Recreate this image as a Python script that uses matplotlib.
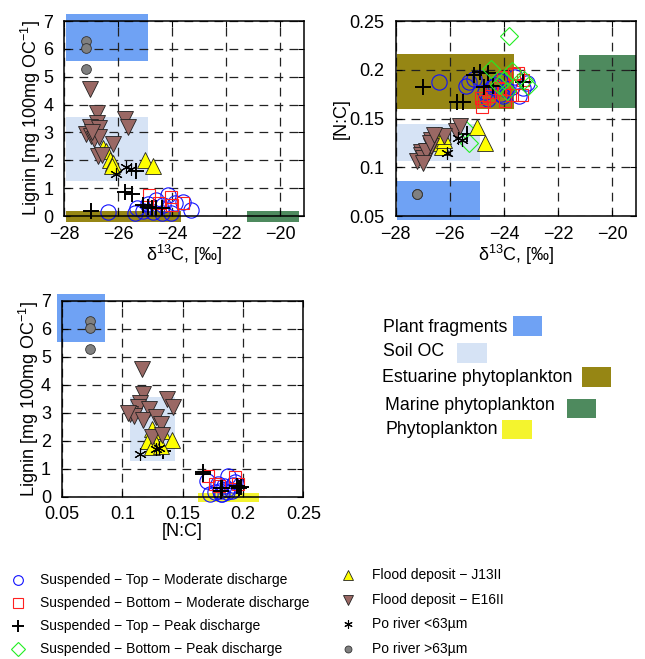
import numpy as np
import matplotlib
matplotlib.use('Agg')
import matplotlib.pyplot as plt
from matplotlib.patches import Rectangle
from matplotlib.ticker import FuncFormatter

plt.rcParams['font.family'] = ['Liberation Sans', 'DejaVu Sans']
plt.rcParams['mathtext.fontset'] = 'custom'
plt.rcParams['mathtext.rm'] = 'Liberation Sans'
plt.rcParams['mathtext.it'] = 'Liberation Sans:italic'
plt.rcParams['mathtext.bf'] = 'Liberation Sans:bold'

nan = np.nan

# ---------------- data (d13C, N:C, lignin) ----------------
top_mod_d13c = [-26.40, -25.40, -25.30, -25.10, -24.90, -24.70, -24.60, -24.40, -24.35,
                -24.15, -24.05, -23.90, -23.60, -23.30, -23.45, -23.15, -23.70, -24.10]
top_mod_nc = [0.187, 0.183, 0.187, 0.191, 0.192, 0.177, 0.170, 0.182, 0.184,
              0.188, 0.173, 0.179, 0.193, 0.181, 0.173, 0.186, 0.182, 0.175]
top_mod_lig = [0.16, 0.10, 0.28, 0.19, 0.43, 0.16, 0.57, 0.10, 0.39,
               0.75, 0.10, 0.46, 0.51, 0.22, nan, nan, nan, nan]

bot_mod_d13c = [-24.85, -24.50, -24.05, -24.00, -23.62, -24.75, -24.80, -24.55, -24.20,
                -23.70, -23.50, -23.35, -23.30, -23.95]
bot_mod_nc = [0.171, 0.177, 0.193, 0.180, 0.196, 0.168, 0.162, 0.173, 0.181,
              0.174, 0.197, 0.174, 0.190, 0.168]
bot_mod_lig = [0.75, 0.46, 0.69, 0.40, 0.46, nan, nan, nan, nan,
               nan, nan, nan, nan, nan]

top_peak_d13c = [-27.00, -25.75, -25.50, -25.35, -25.10, -24.90, -24.75, -24.60, -24.40, -23.30]
top_peak_nc = [0.182, 0.167, 0.167, 0.134, 0.195, 0.198, 0.182, 0.197, 0.183, 0.187]
top_peak_lig = [0.19, 0.87, 0.80, 1.62, 0.38, 0.33, 0.30, 0.30, 0.30, nan]

bot_peak_d13c = [-23.80, -25.30, -25.45, -24.50, -24.00, -23.70, -23.25, -23.10, -24.20, -23.90]
bot_peak_nc = [0.235, 0.125, 0.139, 0.201, 0.190, 0.199, 0.190, 0.183, 0.184, 0.178]
bot_peak_lig = [nan] * 10

j13_d13c = [-26.55, -26.45, -26.30, -26.20, -25.00, -24.70, -26.25]
j13_nc = [0.125, 0.133, 0.121, 0.128, 0.141, 0.125, 0.132]
j13_lig = [2.43, 2.35, 2.01, 1.90, 2.02, 1.78, 1.80]

e16_d13c = [-27.05, -26.80, -26.80, -27.05, -27.20, -27.00, -26.70, -26.90, -26.70,
            -25.77, -25.64, -26.20, -26.75, -26.60, -26.98]
e16_nc = [0.116, 0.117, 0.115, 0.113, 0.106, 0.110, 0.122, 0.117, 0.128,
          0.137, 0.142, 0.132, 0.125, 0.133, 0.1045]
e16_lig = [4.55, 3.69, 3.35, 3.20, 2.95, 2.88, 3.15, 2.75, 2.85,
           3.48, 3.20, 2.60, 2.15, 2.20, 3.00]

po_fine_d13c = [-26.10, -25.70, -25.55]
po_fine_nc = [0.115, 0.130, 0.128]
po_fine_lig = [1.51, 1.75, 1.70]

po_coarse_d13c = [-27.20, -27.20, -27.20]
po_coarse_nc = [0.073, 0.073, 0.073]
po_coarse_lig = [6.30, 6.02, 5.28]

# source end-member boxes: (d13C range, N:C range, lignin range)
region_names = ['Plant fragments', 'Soil OC', 'Estuarine phytoplankton',
                'Marine phytoplankton', 'Phytoplankton']
region_d13c = [(-27.95, -24.90), (-27.95, -24.90), (-27.95, -23.65), (-21.25, -19.13), None]
region_d13c_p1 = [(-27.95, -24.90), (-27.95, -24.90), (-27.95, -23.70), (-21.25, -19.30), None]
region_nc = [(0.046, 0.086), (0.106, 0.144), (0.160, 0.216), (0.161, 0.215), (0.163, 0.213)]
region_lig = [(5.55, 7.25), (1.27, 3.55), (-0.20, 0.18), (-0.20, 0.18), (-0.20, 0.13)]
region_colors = ['#6fa2f4', '#d6e3f5', '#968614', '#4e8a5e', '#f4f42e']

series = [
    ('Suspended \u2212 Top \u2212 Moderate discharge', top_mod_d13c, top_mod_nc, top_mod_lig,
     dict(marker='o', mfc='none', mec='#1010ff', ms=11, mew=0.8)),
    ('Suspended \u2212 Bottom \u2212 Moderate discharge', bot_mod_d13c, bot_mod_nc, bot_mod_lig,
     dict(marker='s', mfc='none', mec='#ff2020', ms=9, mew=0.8)),
    ('Suspended \u2212 Top \u2212 Peak discharge', top_peak_d13c, top_peak_nc, top_peak_lig,
     dict(marker='+', mec='black', ms=11, mew=1.4)),
    ('Suspended \u2212 Bottom \u2212 Peak discharge', bot_peak_d13c, bot_peak_nc, bot_peak_lig,
     dict(marker='D', mfc='none', mec='#22ee22', ms=9, mew=0.8)),
    ('Flood deposit \u2212 J13II', j13_d13c, j13_nc, j13_lig,
     dict(marker='^', mfc='#ffff00', mec='#222222', ms=12, mew=0.6)),
    ('Flood deposit \u2212 E16II', e16_d13c, e16_nc, e16_lig,
     dict(marker='v', mfc='#9a6864', mec='#222222', ms=12, mew=0.6)),
    ('Po river <63\u00b5m', po_fine_d13c, po_fine_nc, po_fine_lig,
     dict(marker=(6, 2, 0), mec='black', ms=9, mew=0.8)),
    ('Po river >63\u00b5m', po_coarse_d13c, po_coarse_nc, po_coarse_lig,
     dict(marker='o', mfc='#808080', mec='#333333', ms=7, mew=0.6)),
]

fig = plt.figure(figsize=(6.45, 6.59), dpi=100)
W, H = 645.0, 659.0


def ax_at(l, t, r, b):
    return fig.add_axes([l / W, 1 - b / H, (r - l) / W, (b - t) / H])


ax1 = ax_at(64.3, 21, 304, 216)
ax2 = ax_at(395.7, 21, 636, 216)
ax3 = ax_at(62, 21 + 280, 303.3, 496.7)

fmt = FuncFormatter(lambda v, p: ('%g' % v).replace('-', '\u2212'))
d13c_label = '\u03b4$^{13}$C, [\u2030]'
lig_label = 'Lignin [mg 100mg OC$^{\u22121}$]'


def style_ax(ax, xlim, ylim, xticks, yticks, xlabel, ylabel):
    ax.set_xlim(*xlim)
    ax.set_ylim(*ylim)
    ax.set_xticks(xticks)
    ax.set_yticks(yticks)
    ax.xaxis.set_major_formatter(fmt)
    ax.yaxis.set_major_formatter(fmt)
    ax.tick_params(direction='in', top=True, right=True, labelsize=13, length=4)
    ax.tick_params(axis='x', pad=7)
    ax.tick_params(axis='y', pad=8)
    ax.set_axisbelow('line')
    ax.grid(True, color='#222222', linestyle=(0, (7, 5)), linewidth=0.9)
    for s in ax.spines.values():
        s.set_linewidth(1.1)
        s.set_zorder(5)
    ax.set_xlabel(xlabel, fontsize=13, labelpad=0)
    ax.set_ylabel(ylabel, fontsize=13, labelpad=0)


def add_rect(ax, xr, yr, color):
    ax.add_patch(Rectangle((xr[0], yr[0]), xr[1] - xr[0], yr[1] - yr[0],
                           facecolor=color, edgecolor='none', zorder=1, clip_on=False))


# panel 1: d13C vs lignin
for i in range(4):
    add_rect(ax1, region_d13c_p1[i], region_lig[i], region_colors[i])
# panel 2: d13C vs N:C
for i in range(4):
    add_rect(ax2, region_d13c[i], region_nc[i], region_colors[i])
# panel 3: N:C vs lignin
for i in (0, 1, 4):
    add_rect(ax3, region_nc[i], region_lig[i], region_colors[i])

for name, d, nc, lig, st in series:
    kw = dict(linestyle='none', zorder=3, clip_on=False, **st)
    ax1.plot(d, lig, **kw)
    ax2.plot(d, nc, **kw)
    ax3.plot(nc, lig, **kw)

style_ax(ax1, (-28, -19.13), (0, 7), [-28, -26, -24, -22, -20], range(0, 8),
         d13c_label, lig_label)
style_ax(ax2, (-28, -19.13), (0.05, 0.25), [-28, -26, -24, -22, -20],
         [0.05, 0.1, 0.15, 0.2, 0.25], d13c_label, '[N:C]')
style_ax(ax3, (0.05, 0.25), (0, 7), [0.05, 0.1, 0.15, 0.2, 0.25], range(0, 8),
         '[N:C]', lig_label)

# overlay for legends in pixel coordinates
lg = fig.add_axes([0, 0, 1, 1])
lg.set_xlim(0, W)
lg.set_ylim(H, 0)
lg.axis('off')

# region legend
reg_text_x = [382.7, 382.7, 382.0, 385.0, 385.7]
reg_text_y = [327, 352, 378, 405, 430]
reg_box = [(513, 542, 316, 336), (457, 487, 343, 363), (582, 611, 367, 387),
           (567, 596, 399, 418), (502, 532, 420, 439)]
for i in range(5):
    lg.text(reg_text_x[i], reg_text_y[i], region_names[i], fontsize=12.8,
            va='center', ha='left')
    x0, x1, y0, y1 = reg_box[i]
    lg.add_patch(Rectangle((x0, y0), x1 - x0, y1 - y0, facecolor=region_colors[i],
                           edgecolor='none'))

# marker legend
leg_mx = [18, 18, 18, 18, 348, 348, 348, 348]
leg_tx = [40, 40, 40, 40, 372, 372, 372, 372]
leg_y = [580, 603, 626, 649, 575, 600, 624, 649]
leg_ms = [7, 6.5, 8, 7, 7, 7, 6, 5]
for i, (name, d, nc, lig, st) in enumerate(series):
    st2 = dict(st)
    st2['ms'] = leg_ms[i]
    lg.plot([leg_mx[i]], [leg_y[i]], linestyle='none', **st2)
    lg.text(leg_tx[i], leg_y[i], name, fontsize=10, va='center', ha='left')

fig.savefig('out.png', dpi=100)
